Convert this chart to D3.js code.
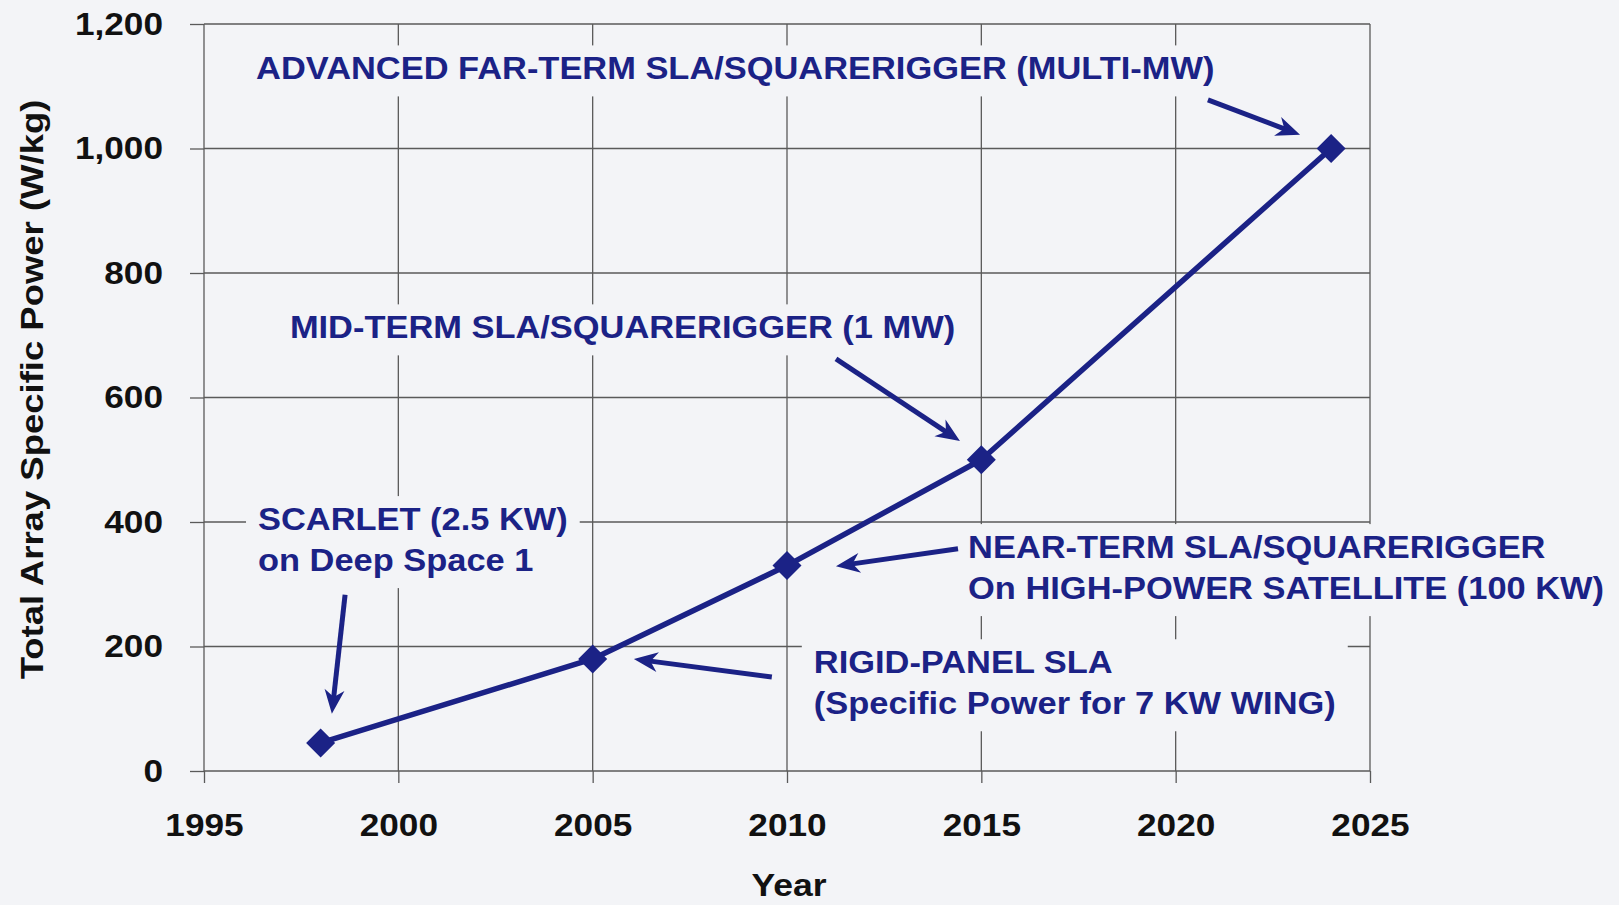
<!DOCTYPE html>
<html><head><meta charset="utf-8">
<script src="https://cdn.jsdelivr.net/npm/d3@7"></script>
<style>
html,body{margin:0;padding:0;background:#f3f4f7;}
svg{display:block;font-family:"Liberation Sans",Arial,sans-serif;font-weight:bold;}
</style></head><body>
<svg id="chart" width="1619" height="905"></svg>
<script>
// ---- data ----
const years = [1998, 2005, 2010, 2015, 2024];
const specificPower = [45, 180, 330, 500, 1000];
const xTicks = [1995, 2000, 2005, 2010, 2015, 2020, 2025];
const yTicks = [0, 200, 400, 600, 800, 1000, 1200];
const xTitle = "Year";
const yTitle = "Total Array Specific Power (W/kg)";
const annotationLines = [
  ["ADVANCED FAR-TERM SLA/SQUARERIGGER (MULTI-MW)"],
  ["MID-TERM SLA/SQUARERIGGER (1 MW)"],
  ["SCARLET (2.5 KW)", "on Deep Space 1"],
  ["NEAR-TERM SLA/SQUARERIGGER", "On HIGH-POWER SATELLITE (100 KW)"],
  ["RIGID-PANEL SLA", "(Specific Power for 7 KW WING)"]
];
// ---- layout (in data coordinates) ----
const annotationAnchor = [[1996.34,1111],[1997.21,695],[1996.39,387],[2014.66,342],[2010.69,157]];
const arrowTail = [[2020.83,1078],[2011.26,662],[1998.63,283],[2014.4,357],[2009.61,151]];
const arrowTip  = [[2023.2,1022],[2014.45,530],[1998.29,92],[2011.26,329],[2006.06,180]];

const W = 1619, H = 905;
const navy = "#1b2286";
const gridColor = "#5a5a5a";
const bg = "#f3f4f7";

const svg = d3.select("#chart");
svg.append("rect").attr("width", W).attr("height", H).attr("fill", bg);

const x = d3.scaleLinear().domain([1995, 2025]).range([204, 1370]);
const y = d3.scaleLinear().domain([0, 1200]).range([771, 24]);

function stretch(k) {
  return sel => sel.each(function() {
    const n = this.getComputedTextLength();
    d3.select(this).attr("textLength", n * k).attr("lengthAdjust", "spacingAndGlyphs");
  });
}

// grid
const grid = svg.append("g").attr("stroke", gridColor).attr("stroke-width", 1.3);
grid.selectAll("line.v").data(xTicks).join("line").attr("class","v")
  .attr("x1", d => x(d)).attr("x2", d => x(d)).attr("y1", y(1200)).attr("y2", y(0));
grid.selectAll("line.h").data(yTicks).join("line").attr("class","h")
  .attr("x1", x(1995)).attr("x2", x(2025)).attr("y1", d => y(d)).attr("y2", d => y(d));

// axes
const yAxis = svg.append("g").attr("transform", `translate(${x(1995)},0)`)
  .call(d3.axisLeft(y).tickValues(yTicks).tickFormat(d3.format(",")).tickSize(14).tickPadding(27));
const xAxis = svg.append("g").attr("transform", `translate(0,${y(0)})`)
  .call(d3.axisBottom(x).tickValues(xTicks).tickFormat(d3.format("d")).tickSize(12).tickPadding(30));
[yAxis, xAxis].forEach(a => {
  a.select(".domain").remove();
  a.selectAll(".tick line").attr("stroke", gridColor).attr("stroke-width", 1.3);
  a.selectAll(".tick text").attr("fill", "#111").attr("font-size", 32)
    .attr("font-family", '"Liberation Sans",Arial,sans-serif').attr("font-weight", "bold");
  a.selectAll(".tick text").call(stretch(1.1));
});

// axis titles
svg.append("text").attr("x", (x(1995)+x(2025))/2 + 2).attr("y", 896)
  .attr("text-anchor", "middle").attr("font-size", 32).attr("fill", "#111").text(xTitle).call(stretch(1.11));
svg.append("text").attr("transform", `translate(43,${(y(0)+y(1200))/2 - 8}) rotate(-90)`)
  .attr("text-anchor", "middle").attr("font-size", 32).attr("fill", "#111").text(yTitle).call(stretch(1.14));

// annotation text (with background boxes that hide the grid)
const annG = svg.append("g");
const lineGap = 41;
annotationLines.forEach((lines, i) => {
  const g = annG.append("g");
  const ax = x(annotationAnchor[i][0]), ay = y(annotationAnchor[i][1]);
  const box = g.append("rect").attr("fill", bg);
  const t = g.append("text").attr("font-size", 31).attr("fill", navy);
  lines.forEach((s, k) => {
    t.append("tspan").attr("x", ax).attr("y", ay + k * lineGap).text(s);
  });
  t.selectAll("tspan").call(stretch(1.11));
  const bb = t.node().getBBox();
  box.attr("x", bb.x - 12).attr("y", bb.y - 6).attr("width", bb.width + 24).attr("height", bb.height + 16);
});

// data line
const pts = years.map((yr, i) => [x(yr), y(specificPower[i])]);
svg.append("path").attr("d", d3.line()(pts)).attr("fill", "none")
  .attr("stroke", navy).attr("stroke-width", 5.5).attr("stroke-linejoin", "round");
svg.selectAll("path.mk").data(pts).join("path").attr("class", "mk")
  .attr("transform", d => `translate(${d[0]},${d[1]})`)
  .attr("d", "M0,-14.5L14.5,0L0,14.5L-14.5,0Z").attr("fill", navy);

// arrows
const L = 24, HW = 10;
arrowTail.forEach((tl, i) => {
  const x0 = x(tl[0]), y0 = y(tl[1]);
  const x1 = x(arrowTip[i][0]), y1 = y(arrowTip[i][1]);
  const ang = Math.atan2(y1 - y0, x1 - x0);
  const c = Math.cos(ang), s = Math.sin(ang);
  const bx = x1 - 0.7 * L * c, by = y1 - 0.7 * L * s;
  svg.append("line").attr("x1", x0).attr("y1", y0).attr("x2", bx + 2*c).attr("y2", by + 2*s)
    .attr("stroke", navy).attr("stroke-width", 5);
  const p1 = [x1 - L*c + HW*s, y1 - L*s - HW*c];
  const p2 = [x1 - L*c - HW*s, y1 - L*s + HW*c];
  svg.append("path").attr("d", `M${x1},${y1}L${p1}L${bx},${by}L${p2}Z`).attr("fill", navy);
});
</script>
</body></html>
